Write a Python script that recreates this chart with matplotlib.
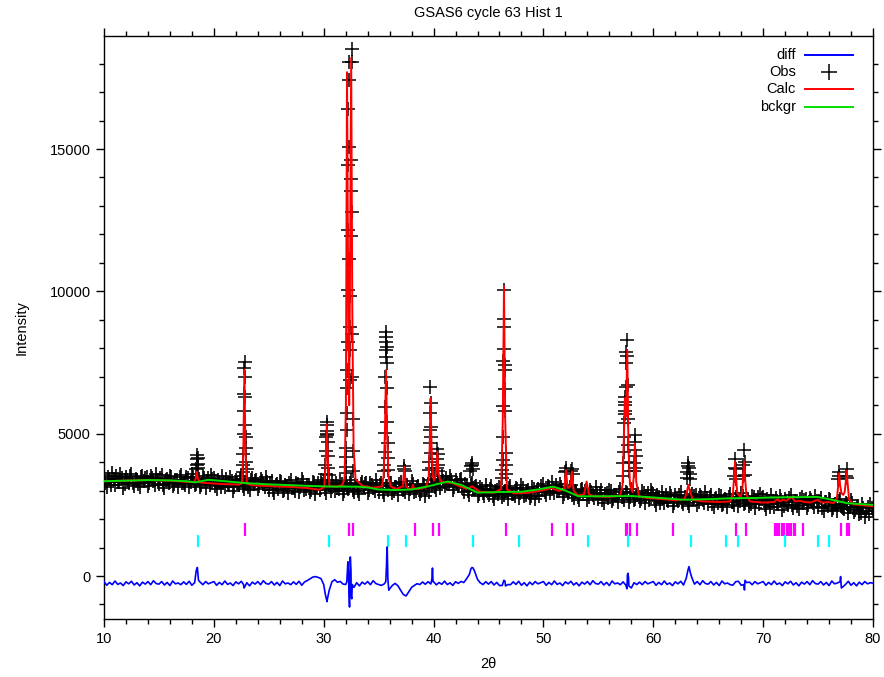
import numpy as np
import matplotlib
matplotlib.use("Agg")
import matplotlib.pyplot as plt
from matplotlib.ticker import MultipleLocator

plt.rcParams["font.family"] = ["Liberation Sans", "DejaVu Sans"]

# --- observed counts, scan 10..80 step 0.25 (baseline band) ---
obs_scan = [
    3540, 3140, 3420, 3610, 3210, 3320, 3570, 3100, 3480, 3280, 3600, 3170, 3380, 3120, 3530, 3450, 3150, 3500, 3330, 3590,
    3220, 3540, 3090, 3420, 3530, 3160, 3370, 3110, 3560, 3280, 3470, 3130, 3590, 3200, 3380, 3140, 3500, 3080, 3440, 3550,
    3440, 3040, 3320, 3510, 3110, 3220, 3470, 3000, 3380, 3180, 3500, 3070, 3280, 3020, 3430, 3350, 3050, 3400, 3230, 3490,
    3030, 3350, 2900, 3230, 3340, 2970, 3180, 2920, 3370, 3090, 3280, 2940, 3400, 3010, 3190, 2950, 3310, 2890, 3250, 3360,
    3310, 2910, 3190, 3380, 2980, 3090, 3340, 2870, 3250, 3050, 3370, 2940, 3150, 2890, 3300, 3220, 2920, 3270, 3100, 3360,
    2960, 3280, 2830, 3160, 3270, 2900, 3110, 2850, 3300, 3020, 3210, 2870, 3330, 2940, 3120, 2880, 3240, 2820, 3230, 3360,
    3400, 3010, 3310, 3530, 3150, 3260, 3510, 3020, 3380, 3160, 3420, 2950, 3150, 2860, 3250, 3130, 2800, 3120, 2930, 3180,
    2830, 3150, 2700, 3030, 3140, 2770, 2980, 2720, 3170, 2890, 3080, 2740, 3200, 2810, 2990, 2750, 3110, 2690, 3050, 3160,
    3230, 2830, 3110, 3300, 2900, 2990, 3240, 2770, 3130, 2930, 3180, 2730, 2940, 2660, 3070, 2990, 2680, 3030, 2860, 3120,
    2700, 3020, 2570, 2900, 3010, 2640, 2850, 2590, 3040, 2760, 2950, 2610, 3070, 2680, 2860, 2620, 2980, 2560, 2920, 3030,
    2890, 2490, 2770, 2960, 2560, 2670, 2920, 2450, 2830, 2630, 2950, 2520, 2730, 2470, 2880, 2800, 2500, 2850, 2680, 2940,
    2540, 2860, 2410, 2740, 2850, 2480, 2690, 2430, 2880, 2600, 2790, 2450, 2910, 2520, 2700, 2460, 2820, 2400, 2760, 2870,
    2770, 2370, 2650, 2840, 2440, 2550, 2800, 2330, 2710, 2510, 2830, 2400, 2610, 2350, 2760, 2680, 2380, 2730, 2560, 2820,
    2420, 2740, 2290, 2600, 2700, 2330, 2540, 2280, 2700, 2400, 2560, 2220, 2660, 2250, 2420, 2180, 2520, 2090, 2430, 2530,
    2300,
]
tth_scan = np.linspace(10, 80, len(obs_scan))

# in-between scan points, 10.125..79.875
obs_scan2 = [
    3270, 3480, 3210, 3400, 3510, 3300, 3450, 3230, 3370, 3500, 3250, 3420, 3220, 3470, 3340, 3490, 3260, 3430, 3210, 3390,
    3440, 3200, 3390, 3260, 3490, 3220, 3360, 3470, 3280, 3190, 3430, 3310, 3480, 3240, 3400, 3210, 3450, 3330, 3200, 3420,
    3170, 3380, 3110, 3300, 3410, 3200, 3350, 3130, 3270, 3400, 3150, 3320, 3120, 3370, 3240, 3390, 3160, 3330, 3110, 3290,
    3250, 3010, 3200, 3070, 3300, 3030, 3170, 3280, 3090, 3000, 3240, 3120, 3290, 3050, 3210, 3020, 3260, 3140, 3010, 3230,
    3040, 3250, 2980, 3170, 3280, 3070, 3220, 3000, 3140, 3270, 3020, 3190, 2990, 3240, 3110, 3260, 3030, 3200, 2980, 3160,
    3200, 2960, 3150, 3020, 3250, 2980, 3120, 3230, 3040, 2950, 3190, 3070, 3240, 3000, 3160, 2970, 3210, 3090, 2960, 3180,
    3130, 3350, 3100, 3330, 3450, 3240, 3390, 3140, 3260, 3380, 3100, 3220, 2990, 3210, 3080, 3150, 2880, 3040, 2810, 2990,
    3050, 2810, 3000, 2870, 3100, 2830, 2970, 3080, 2890, 2800, 3040, 2920, 3090, 2850, 3010, 2820, 3060, 2940, 2810, 3030,
    2960, 3170, 2900, 3080, 3180, 2970, 3110, 2890, 3020, 3130, 2860, 3000, 2780, 3020, 2870, 3020, 2790, 2950, 2730, 2910,
    2920, 2680, 2870, 2740, 2970, 2700, 2840, 2950, 2760, 2670, 2910, 2790, 2960, 2720, 2880, 2690, 2930, 2810, 2680, 2900,
    2620, 2830, 2560, 2750, 2860, 2650, 2800, 2580, 2720, 2850, 2600, 2770, 2570, 2820, 2690, 2840, 2610, 2780, 2560, 2740,
    2760, 2520, 2710, 2580, 2810, 2540, 2680, 2790, 2600, 2510, 2750, 2630, 2800, 2560, 2720, 2530, 2770, 2650, 2520, 2740,
    2500, 2710, 2440, 2630, 2740, 2530, 2680, 2460, 2600, 2730, 2480, 2650, 2450, 2700, 2570, 2720, 2490, 2660, 2440, 2620,
    2640, 2400, 2590, 2460, 2680, 2400, 2540, 2650, 2460, 2370, 2540, 2410, 2550, 2310, 2460, 2230, 2400, 2300, 2170, 2390,
]
tth_scan2 = np.linspace(10.125, 79.875, len(obs_scan2))

# observed points on the Bragg peaks
obs_pk_tth = [
    18.40, 18.44, 18.47, 18.50, 18.53, 18.56, 18.60,
    22.62, 22.66, 22.69, 22.72, 22.74, 22.76, 22.78, 22.80, 22.83, 22.85, 22.87, 22.89, 22.92, 22.95, 22.98,
    30.12, 30.16, 30.20, 30.23, 30.26, 30.27, 30.29, 30.30, 30.32, 30.35, 30.38, 30.42, 30.46,
    32.00, 32.03, 32.05, 32.07, 32.09, 32.11, 32.13, 32.15, 32.17, 32.19, 32.21, 32.23, 32.25, 32.27, 32.29, 32.31,
    32.34, 32.37, 32.39, 32.41, 32.43, 32.45, 32.47, 32.49, 32.51, 32.53, 32.55, 32.57, 32.59, 32.61, 32.64, 32.67, 32.71,
    35.50, 35.53, 35.56, 35.58, 35.60, 35.62, 35.63, 35.64, 35.66, 35.68, 35.70, 35.72, 35.74, 35.76, 35.79, 35.82, 35.85, 35.88,
    37.30, 37.35, 37.40,
    39.58, 39.62, 39.65, 39.67, 39.69, 39.71, 39.73, 39.75, 39.77, 39.80, 39.84,
    40.28, 40.31, 40.34, 40.37, 40.40, 40.44,
    43.35, 43.42, 43.47, 43.52, 43.58,
    46.22, 46.25, 46.28, 46.30, 46.33, 46.36, 46.38, 46.40, 46.42, 46.44, 46.46, 46.48, 46.50, 46.53, 46.56, 46.59, 46.62,
    51.95, 52.02, 52.06, 52.55, 52.60, 52.65,
    57.25, 57.28, 57.31, 57.33, 57.36, 57.38, 57.40, 57.42, 57.44, 57.47, 57.50, 57.53, 57.56, 57.60, 57.63, 57.66, 57.69, 57.72, 57.76, 57.80,
    58.24, 58.27, 58.30, 58.33, 58.36, 58.39, 58.43,
    63.05, 63.10, 63.15, 63.20, 63.25, 63.30, 63.35,
    67.35, 67.40, 67.45, 67.50, 67.55,
    68.15, 68.20, 68.26, 68.32, 68.38,
    76.85, 76.90, 76.95, 77.55, 77.60, 77.65,
]
obs_pk_int = [
    3750, 3900, 4100, 4250, 4150, 3950, 3800,
    3650, 3900, 4300, 5000, 5800, 6400, 7300, 7520, 7000, 6300, 5300, 4900, 4500, 4000, 3750,
    3600, 3900, 4400, 4900, 5100, 5300, 5420, 5000, 4950, 4700, 4200, 3800, 3550,
    3620, 3840, 4190, 4500, 5130, 5730, 6600, 7240, 8230, 10030, 12160, 14440, 16400, 17430, 18040, 15070,
    11130, 8760, 6890, 7940, 9840, 11960, 13510, 13950, 14600, 18040, 18520, 12780, 8500, 7000, 5500, 4400, 3700,
    3700, 3900, 4370, 5020, 5950, 7000, 7940, 7710, 8230, 8580, 8410, 8060, 7480, 6600, 5420, 4670, 4150, 3720,
    3750, 3850, 3700,
    3720, 4020, 4670, 5130, 5730, 6650, 6080, 5250, 4900, 4320, 3800,
    3800, 4100, 4450, 4300, 3900, 3700,
    3700, 3850, 3970, 3900, 3750,
    3430, 3720, 4080, 4900, 5970, 7570, 8740, 10050, 9020, 7990, 7400, 7240, 6560, 5800, 4330, 3900, 3600,
    3650, 3800, 3700, 3700, 3750, 3600,
    3500, 3960, 4370, 4900, 5380, 5700, 6000, 6300, 5800, 6100, 6650, 7500, 7880, 8290, 7730, 6710, 5500, 4600, 4000, 3700,
    3700, 3960, 4430, 4950, 4720, 4200, 3800,
    3450, 3650, 3850, 3980, 3800, 3600, 3400,
    3500, 3800, 4110, 3750, 3400,
    3500, 3900, 4430, 4000, 3550,
    3400, 3650, 3500, 3500, 3750, 3450,
]

# --- calculated profile ---
calc_tth = [
    10.0, 12.0, 14.0, 16.0, 17.8, 18.2, 18.35, 18.45, 18.55, 18.7, 19.5, 21.0, 22.3,
    22.55, 22.68, 22.78, 22.88, 23.0, 23.4, 25.0, 27.0, 28.5, 29.6,
    30.05, 30.18, 30.28, 30.38, 30.52, 31.2, 31.7,
    31.9, 32.02, 32.12, 32.24, 32.32, 32.40, 32.50, 32.60, 32.72, 32.9,
    33.5, 34.5, 35.3, 35.45, 35.57, 35.67, 35.77, 35.9, 36.1, 36.6,
    37.2, 37.34, 37.48, 37.8, 38.02, 38.12, 38.22, 38.6, 39.3,
    39.55, 39.65, 39.73, 39.81, 39.93, 40.05, 40.22, 40.34, 40.46, 40.6,
    41.0, 41.7, 42.5, 43.0, 43.3, 43.5, 43.7, 44.2, 45.5,
    46.15, 46.3, 46.41, 46.52, 46.68, 47.3, 48.5, 49.5, 50.3, 50.6, 50.75, 50.9, 51.4,
    51.9, 52.05, 52.2, 52.45, 52.6, 52.75, 53.1, 53.7, 53.93, 54.15, 54.6, 56.0, 57.0,
    57.2, 57.32, 57.42, 57.52, 57.63, 57.74, 57.88, 58.1, 58.22, 58.33, 58.45, 58.7,
    59.5, 60.5, 62.0, 62.85, 63.05, 63.19, 63.35, 63.6, 64.5, 66.0, 67.0,
    67.25, 67.36, 67.44, 67.52, 67.65, 67.95, 68.1, 68.18, 68.26, 68.34, 68.48, 68.8,
    70.0, 71.0, 71.3, 71.5, 71.8, 72.1, 72.6, 72.9, 73.35, 73.8, 74.3, 74.9, 75.4, 75.9, 76.4,
    76.72, 76.84, 76.92, 77.0, 77.14, 77.3, 77.42, 77.52, 77.6, 77.68, 77.82, 78.2, 80.0,
]
calc_int = [
    3330, 3350, 3370, 3350, 3300, 3300, 3420, 3660, 3420, 3290, 3260, 3230, 3210,
    3260, 4300, 7250, 4300, 3260, 3190, 3160, 3130, 3090, 3030,
    3120, 4000, 5340, 4000, 3150, 3140, 3200,
    3450, 6000, 17700, 9000, 6000, 11000, 18200, 9500, 4500, 3400,
    3170, 3100, 3150, 3500, 5000, 7240, 5000, 3500, 3150, 3060,
    3150, 3840, 3150, 3050, 3070, 3200, 3070, 3060, 3120,
    3400, 4600, 6240, 4600, 3500, 3350, 3600, 4370, 3600, 3350,
    3290, 3270, 3130, 3070, 3110, 3150, 3100, 2960, 2930,
    3050, 5500, 10170, 5500, 3050, 2900, 2920, 2980, 3040, 3080, 3130, 3060, 2990,
    3050, 3720, 3100, 3150, 3665, 3000, 2830, 2870, 3315, 2870, 2800, 2780, 2830,
    3200, 4800, 6250, 5600, 7940, 4500, 3200, 2950, 3500, 4660, 3300, 2800,
    2740, 2710, 2660, 2700, 2950, 3200, 2950, 2680, 2620, 2600, 2620,
    2900, 3500, 4020, 3500, 2900, 2780, 3000, 3500, 4020, 3500, 2850, 2620,
    2580, 2600, 2700, 2620, 2680, 2640, 2780, 2620, 2640, 2600, 2580, 2670, 2580, 2600, 2560,
    2750, 3200, 3610, 3200, 2900, 2850, 2950, 3300, 3700, 3300, 2700, 2520, 2450,
]

# --- background ---
bck_tth = [10, 12, 14, 16, 17.5, 18.3, 19.5, 21, 23, 25, 27, 29, 31, 33, 34, 35, 36.5, 38, 39.5,
           41.3, 42.5, 44, 46, 48, 49.5, 50.9, 52, 53.2, 55, 58, 60, 62.7, 65, 67, 69, 71, 73,
           74.9, 76, 77.6, 80]
bck_int = [3330, 3350, 3370, 3360, 3330, 3290, 3380, 3330, 3260, 3220, 3190, 3160, 3140, 3140,
           3110, 3040, 3020, 3040, 3150, 3320, 3200, 2930, 2950, 2960, 3040, 3140, 3000, 2800,
           2800, 2810, 2760, 2680, 2700, 2730, 2740, 2760, 2770, 2780, 2700, 2560, 2500]

# --- difference curve (on the scan grid) plus extra detail points ---
diff_scan = [
    -195, -325, -225, -305, -175, -295, -245, -335, -205, -275, -185, -315, -235, -345, -215, -285, -195, -305, -165, -265,
    -285, -195, -315, -225, -335, -175, -275, -245, -305, -205, -295, -185, -325, -235, 300, -215, -305, -195, -275, -235,
    -195, -325, -225, -305, -175, -295, -245, -335, -205, -275, -185, -420, -235, -345, -215, -285, -195, -305, -165, -265,
    -285, -195, -315, -225, -335, -175, -275, -245, -305, -205, -295, -185, -325, -210, -160, -100, -40, -20, -50, -90,
    -300, -820, -500, -200, -130, -220, -190, -280, -300, 100, -700, -400, -235, -345, -215, -285, -195, -305, -165, -265,
    -300, -330, -280, 900, -450, -330, -260, -340, -500, -650, -700, -550, -400, -330, -270, -300, -210, -290, -200, -280,
    -200, -310, -230, -290, -180, -300, -240, -330, -200, -260, -190, -230, -100, 50, 300, 150, -120, -240, -300, -200,
    -285, -195, -315, -225, -335, -330, -180, -300, -305, -205, -295, -185, -325, -235, -345, -215, -305, -195, -275, -235,
    -195, -325, -225, -305, -175, -295, -245, -335, -205, -275, -185, -315, -235, -345, -215, -285, -195, -305, -165, -265,
    -285, -195, -315, -225, -335, -175, -275, -245, -305, -205, -320, -80, -420, -235, -300, -215, -305, -195, -275, -235,
    -195, -325, -225, -305, -175, -295, -245, -335, -205, -275, -185, -315, -80, 330, -50, -285, -195, -305, -165, -265,
    -285, -195, -315, -225, -335, -175, -275, -245, -305, -320, -200, -185, -325, -300, -230, -215, -305, -195, -275, -235,
    -195, -325, -225, -305, -175, -295, -245, -335, -205, -275, -185, -315, -235, -345, -215, -285, -195, -305, -165, -265,
    -285, -195, -315, -225, -335, -175, -275, -245, -200, -380, -295, -185, -325, -235, -345, -215, -305, -195, -275, -235,
    -250,
]
diff_pk_tth = [18.4, 18.6, 22.7, 22.85, 30.15, 30.3, 30.35, 32.1, 32.2, 32.3, 32.35, 32.42, 32.48, 32.55, 32.6,
               35.65, 35.72, 35.78, 35.84, 35.92, 39.85, 39.9, 39.95, 43.4, 43.6, 46.4, 46.55,
               57.6, 57.65, 57.7, 57.78, 63.15, 63.35, 68.3, 68.35, 77.05, 77.12]
diff_pk_int = [200, -150, -300, -350, -650, -900, -780, -200, 500, -600, -1090, 670, 200, -800, -300,
               -200, 400, 1020, -100, -500, -100, 280, -200, 250, 280, -150, -350,
               -450, 50, 95, -350, 200, 150, -490, -150, -20, -420]

# --- reflection markers ---
phase1_pos = [22.83, 32.3, 32.67, 38.28, 39.92, 40.52, 46.6, 50.78, 52.17, 52.72, 57.5, 57.65, 57.85,
              58.5, 61.82, 67.55, 68.46, 71.1, 71.25, 71.4, 71.68, 71.92, 72.13, 72.34, 72.55, 72.77,
              72.92, 73.63, 77.09, 77.6, 77.84]
phase2_pos = [18.53, 30.45, 35.88, 37.52, 43.62, 47.8, 54.09, 57.73, 63.4, 66.61, 67.73, 71.98, 75.02, 76.0]

fig = plt.figure(figsize=(8.84, 6.77), dpi=100)
ax = fig.add_axes([104 / 884, 1 - 619 / 677, 769 / 884, 583 / 677])

# merge scan + peak points for the difference curve
d_tth = np.concatenate([tth_scan, diff_pk_tth])
d_int = np.concatenate([diff_scan, diff_pk_int])
order = np.argsort(d_tth)

ax.plot(tth_scan, obs_scan, "+", color="black", ms=10, mew=1.2, zorder=1)
ax.plot(tth_scan2, obs_scan2, "+", color="black", ms=10, mew=1.2, zorder=1)
ax.plot(obs_pk_tth, obs_pk_int, "+", color="black", ms=10, mew=1.1, zorder=1)
ax.plot(calc_tth, calc_int, color="#ff0000", lw=1.4, zorder=3)
ax.plot(bck_tth, bck_int, color="#00e000", lw=1.4, zorder=4)
ax.plot(d_tth[order], d_int[order], color="#0000ff", lw=1.2, zorder=3)
ax.vlines(phase1_pos, 1420, 1860, color="#ff00ff", lw=1.6, zorder=2)
ax.vlines(phase2_pos, 1020, 1440, color="#00ffff", lw=1.6, zorder=2)

ax.set_xlim(10, 80)
ax.set_ylim(-1510, 18970)
ax.xaxis.set_major_locator(MultipleLocator(10))
ax.xaxis.set_minor_locator(MultipleLocator(2))
ax.yaxis.set_major_locator(MultipleLocator(5000))
ax.yaxis.set_minor_locator(MultipleLocator(1000))
ax.tick_params(which="both", direction="out", top=True, right=True, labelsize=10.5, width=1)
ax.tick_params(which="major", length=6)
ax.tick_params(which="minor", length=3.5)
for s in ax.spines.values():
    s.set_linewidth(1.0)

ax.set_title("GSAS6 cycle 63 Hist 1", fontsize=10.5, pad=14)
ax.set_xlabel("2θ", fontsize=10.5, labelpad=8)
ax.set_ylabel("Intensity", fontsize=10.5, labelpad=15)

# key, drawn in axes coordinates (labels right-aligned, sample on the right)
rows = [0.9674, 0.9377, 0.9086, 0.8787]
names = ["diff", "Obs", "Calc", "bckgr"]
cols = ["#0000ff", None, "#ff0000", "#00e000"]
for yy, nm, cc in zip(rows, names, cols):
    ax.text(0.8995, yy, nm, transform=ax.transAxes, ha="right", va="center", fontsize=10.5)
    if cc is None:
        ax.plot([0.9432], [yy], "+", color="black", ms=11, mew=1.1, transform=ax.transAxes, clip_on=False)
    else:
        ax.plot([0.9116, 0.974], [yy, yy], color=cc, lw=1.4, transform=ax.transAxes, clip_on=False)

fig.savefig("out.png", dpi=100)
